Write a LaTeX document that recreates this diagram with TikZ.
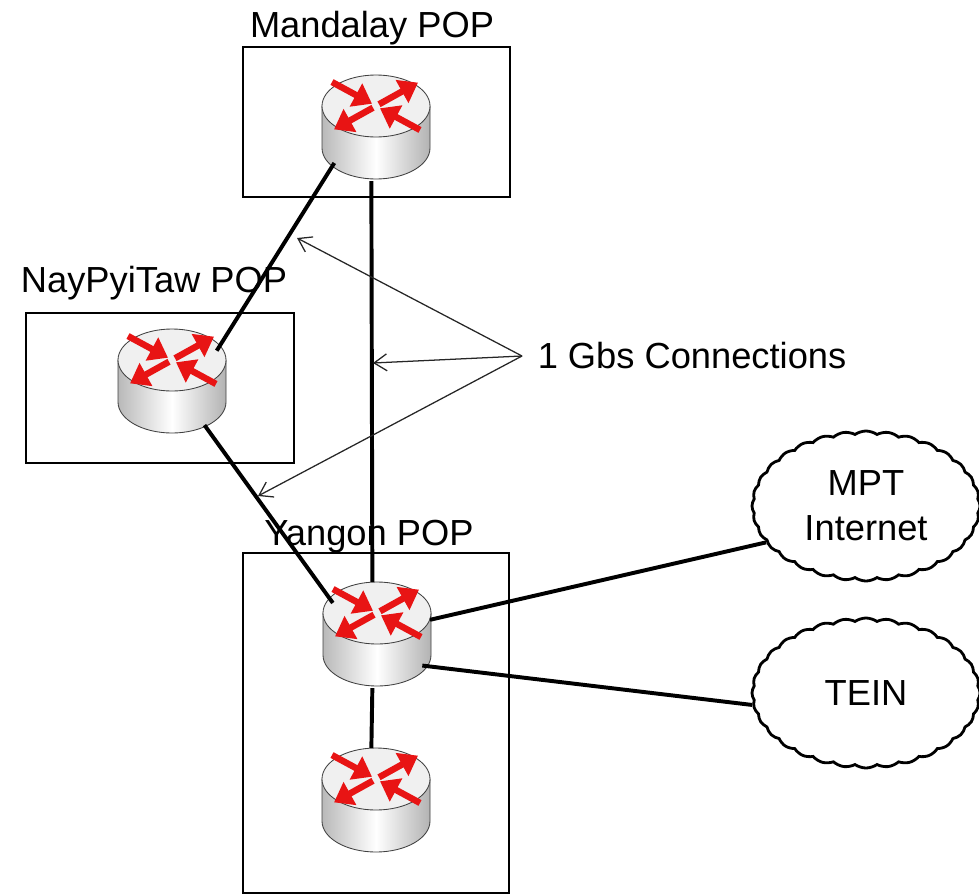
\documentclass[tikz,border=0pt]{standalone}
\usepackage{fontspec}
\setmainfont{Liberation Sans}
\usetikzlibrary{arrows.meta,shapes.geometric,shapes.symbols}
\definecolor{arrowred}{RGB}{232,20,20}

\begin{document}
\begin{tikzpicture}[x=0.025cm,y=-0.025cm,
    font=\fontsize{25.8}{32}\selectfont,
    popbox/.style={draw,line width=1.8pt,inner sep=0pt},
    link/.style={line width=2.8pt},
    callout/.style={line width=0.9pt,black!85,-{Straight Barb[length=9pt,width=12pt]}},
    routerarrow/.style={arrowred,line width=4.6pt,-{Triangle[length=13pt,width=18pt]}},
    netcloud/.style={cloud,draw,line width=2pt,cloud puffs=32,cloud puff arc=70,
      cloud ignores aspect,minimum width=5.7cm,minimum height=3.75cm,align=center},
    router/.pic={
      \begin{scope}[yscale=-1]
        \path[left color=gray!55,right color=gray!60,middle color=white,draw=black!75,line width=0.6pt]
          (-54,22) -- (-54,-20) arc[start angle=180,end angle=360,x radius=54,y radius=31] -- (54,22) -- cycle;
        \path[fill=gray!12,draw=black!75,line width=0.6pt] (0,22) ellipse[x radius=54,y radius=31];
        \begin{scope}[shift={(0,22)},yscale=0.57]
          \draw[routerarrow] (3,3) -- (42,41);
          \draw[routerarrow] (-3,-3) -- (-42,-41);
          \draw[routerarrow] (-44,42) -- (-4,4);
          \draw[routerarrow] (44,-42) -- (4,-4);
        \end{scope}
      \end{scope}
      \node[ellipse,inner sep=0pt,minimum width=2.75cm,minimum height=2.65cm] (-r) {};
    }]
    \useasboundingbox (0,0) rectangle (979,895);

    % POP boxes
    \node[popbox,minimum width=6.675cm,minimum height=3.75cm] at (376.5,122) (mdlbox) {};
    \node[popbox,minimum width=6.7cm,minimum height=3.75cm] at (160,388) (nptbox) {};
    \node[popbox,minimum width=6.65cm,minimum height=8.5cm] at (376,723) (ygnbox) {};
    \node[anchor=base] at (372,37) (mdllabel) {Mandalay POP};
    \node[anchor=base] at (154,292) (nptlabel) {NayPyiTaw POP};
    \node[anchor=base] at (369,545) (ygnlabel) {Yangon POP};

    % routers
    \pic (mdl) at (376,128) {router};
    \pic (npt) at (172,382) {router};
    \pic (ygn) at (377,635) {router};
    \pic (ygntwo) at (376,801) {router};

    % clouds
    \node[netcloud] at (866,506) (mpt) {MPT\\Internet};
    \node[netcloud] at (866,693) (tein) {TEIN};

    \draw[link] (mdl-r.220) -- (npt-r.35);
    \draw[link] (mdl-r.265) -- (ygn-r.95);
    \draw[link] (npt-r.307) -- (ygn-r.144);
    \draw[link] (ygn-r.16) -- (mpt.200);
    \draw[link] (ygn-r.326) -- (tein.186);
    \draw[link] (ygn-r.265) -- (ygntwo-r.95);

    \node[anchor=west,inner xsep=11pt] at (522,356) (gbs) {1 Gbs Connections};
    \coordinate (t1) at (297,238);
    \coordinate (t2) at (373,363);
    \coordinate (t3) at (258,496);
    \draw[callout] (gbs.west) -- (t1);
    \draw[callout] (gbs.west) -- (t2);
    \draw[callout] (gbs.west) -- (t3);
  \end{tikzpicture}
\end{document}
